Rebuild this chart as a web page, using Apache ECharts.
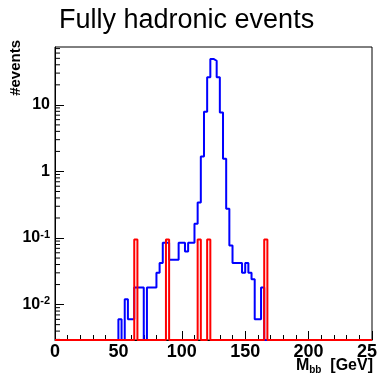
<!DOCTYPE html>
<html>
<head>
<meta charset="utf-8">
<script src="https://cdn.jsdelivr.net/npm/echarts@6/dist/echarts.min.js"></script>
<style>
  html, body { margin: 0; padding: 0; background: #fff; }
  #chart { width: 377px; height: 376px; }
</style>
</head>
<body>
<div id="chart"></div>
<script>
// M_bb histogram: 100 bins of 2.5 GeV from 0 to 250 GeV
const binWidth = 2.5;
const nBins = 100;

// Signal-like distribution (blue), per-bin contents
const blueCounts = [
  0, 0, 0, 0, 0, 0, 0, 0, 0, 0,
  0, 0, 0, 0, 0, 0, 0, 0, 0, 0,
  0.006, 0, 0.012, 0.006, 0.006, 0.018, 0.018, 0.018, 0, 0.018,
  0.018, 0.018, 0.030, 0.042, 0.085, 0.085, 0.047, 0.047, 0.047, 0.085,
  0.085, 0.063, 0.085, 0.085, 0.164, 0.343, 1.68, 7.9, 26, 49,
  46, 26, 7.7, 1.55, 0.275, 0.077, 0.042, 0.042, 0.042, 0.030,
  0.042, 0.030, 0.024, 0.006, 0.006, 0.018, 0, 0, 0, 0,
  0, 0, 0, 0, 0, 0, 0, 0, 0, 0,
  0, 0, 0, 0, 0, 0, 0, 0, 0, 0,
  0, 0, 0, 0, 0, 0, 0, 0, 0, 0
];

// Background-like distribution (red): isolated weighted entries
const redBinEdges = [62.5, 87.5, 112.5, 120, 165];
const redBinValues = [0.095, 0.095, 0.095, 0.095, 0.095];

const xTicks = [0, 50, 100, 150, 200, 250];
const yMin = 0.00294;
const yMax = 74;

const FONT = '"Liberation Sans", Arial, Helvetica, sans-serif';

function redCounts() {
  const arr = new Array(nBins).fill(0);
  redBinEdges.forEach((e, k) => { arr[Math.round(e / binWidth)] = redBinValues[k]; });
  return arr;
}

// Step outline: each bin held from its lower edge to the next one;
// empty bins sit on the lower edge of the log axis.
function stepData(counts) {
  const pts = counts.map((c, i) => [i * binWidth, c > 0 ? c : yMin]);
  const last = counts[counts.length - 1];
  pts.push([nBins * binWidth, last > 0 ? last : yMin]);
  return pts;
}

// Minor ticks of the log axis at 2..9 x 10^k
const minorTickValues = [];
for (let k = -3; k <= 1; k++) {
  for (let m = 2; m <= 9; m++) {
    const v = m * Math.pow(10, k);
    if (v > yMin && v < yMax) minorTickValues.push([0, v]);
  }
}

const chart = echarts.init(document.getElementById('chart'), null, { renderer: 'canvas' });

chart.setOption({
  animation: false,
  backgroundColor: '#ffffff',
  title: {
    text: 'Fully hadronic events',
    left: 54,
    top: 2,
    textStyle: { fontFamily: FONT, fontSize: 27, fontWeight: 'normal', color: '#000' }
  },
  grid: {
    left: 55, top: 47, width: 317, height: 293,
    outerBoundsMode: 'none',
    containLabel: false,
    show: true, borderColor: '#000', borderWidth: 1, backgroundColor: 'transparent'
  },
  xAxis: {
    type: 'value',
    min: xTicks[0],
    max: xTicks[xTicks.length - 1],
    interval: 50,
    axisLine: { lineStyle: { color: '#000', width: 1 } },
    axisTick: { inside: true, length: 9, lineStyle: { color: '#000' } },
    minorTick: { show: true, splitNumber: 5, length: 5, lineStyle: { color: '#000' } },
    splitLine: { show: false },
    axisLabel: {
      margin: 3,
      hideOverlap: false,
      fontFamily: FONT, fontWeight: 'bold', fontSize: 18, color: '#000'
    }
  },
  yAxis: {
    type: 'log',
    logBase: 10,
    min: yMin,
    max: yMax,
    axisLine: { lineStyle: { color: '#000', width: 1 } },
    axisTick: { inside: true, length: 9, lineStyle: { color: '#000' } },
    splitLine: { show: false },
    axisLabel: {
      showMinLabel: false,
      showMaxLabel: false,
      margin: 5,
      fontFamily: FONT, fontWeight: 'bold', fontSize: 16, color: '#000',
      formatter: function (v) {
        const p = Math.round(Math.log10(v));
        if (p === 0) return '1';
        if (p === 1) return '10';
        return '10{sup|' + p + '}';
      },
      rich: {
        sup: {
          fontFamily: FONT, fontWeight: 'bold', fontSize: 11, color: '#000',
          verticalAlign: 'top', padding: [0, 0, 7, 0]
        }
      }
    }
  },
  graphic: [
    {
      type: 'text',
      x: 16, y: 40,
      rotation: Math.PI / 2,
      style: {
        text: '#events',
        font: 'bold 15px ' + FONT,
        fill: '#000',
        textAlign: 'right',
        textVerticalAlign: 'middle'
      }
    },
    {
      type: 'text',
      right: 4, top: 358,
      style: {
        text: '{m|M}{s|bb}{m|  [GeV]}',
        rich: {
          m: { font: 'bold 16px ' + FONT, fill: '#000', color: '#000' },
          s: { font: 'bold 10px ' + FONT, fill: '#000', color: '#000', padding: [9, 0, 0, 0] }
        }
      }
    }
  ],
  series: [
    {
      name: 'minor',
      type: 'custom',
      silent: true,
      data: minorTickValues,
      renderItem: function (params, api) {
        const p = api.coord([api.value(0), api.value(1)]);
        return {
          type: 'line',
          shape: { x1: p[0], y1: p[1], x2: p[0] + 5, y2: p[1] },
          style: { stroke: '#000', lineWidth: 1 }
        };
      },
      z: 1
    },
    {
      name: 'signal',
      type: 'line',
      step: 'end',
      data: stepData(blueCounts),
      showSymbol: false,
      clip: false,
      lineStyle: { color: '#0000ff', width: 2 },
      z: 3
    },
    {
      name: 'background',
      type: 'line',
      step: 'end',
      data: stepData(redCounts()),
      showSymbol: false,
      clip: false,
      lineStyle: { color: '#ff0000', width: 2 },
      z: 4
    }
  ]
});
</script>
</body>
</html>
